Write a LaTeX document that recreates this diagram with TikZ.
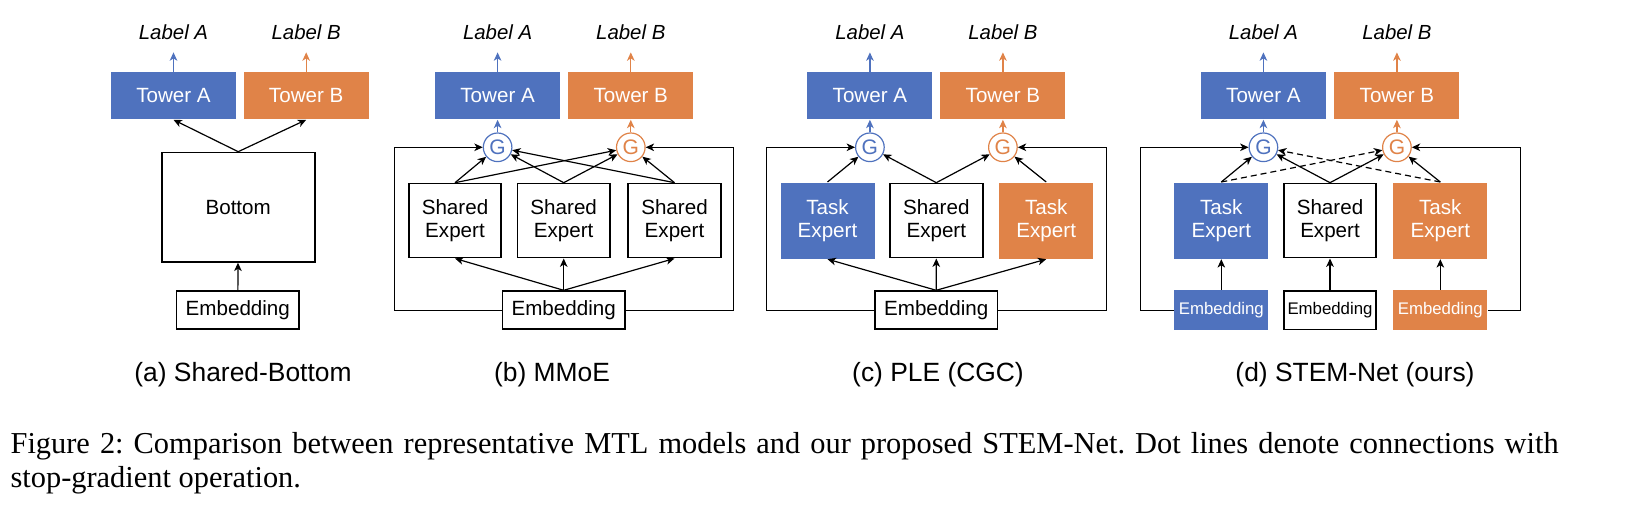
\documentclass[tikz,border=0pt]{standalone}
\usepackage{fontspec}
\setmainfont{Liberation Sans}
\newfontfamily\captionserif{Liberation Serif}
\usepackage{tikz}
\usetikzlibrary{arrows.meta}
\usetikzlibrary{shapes}

\definecolor{cblue}{RGB}{79,114,190}
\definecolor{corange}{RGB}{224,131,72}
\newcommand{\twrfont}{\fontsize{10.3}{11.7}\selectfont}
\newcommand{\embsfont}{\fontsize{8.4}{10}\selectfont}
\newcommand{\lblfont}{\fontsize{10.2}{12}\selectfont\itshape}
\newcommand{\gtfont}{\fontsize{10.5}{12}\selectfont}
\newcommand{\scfont}{\fontsize{13.2}{15}\selectfont}

\begin{document}
\begin{tikzpicture}[x=0.5pt,y=-0.5pt,>={Stealth[length=4.2pt,width=3.8pt,inset=1.2pt]},line width=0.6pt]
	\useasboundingbox (0,0) rectangle (1632,506);
	\def \labelht{32.7}
	\def \towerht{95.7}
	\def \gateht{147.3}
	\def \expertht{220.6}
	\def \embht{310.2}
	\def \subcapht{381.5}
	\tikzstyle{tower-a}=[rectangle,fill=cblue,text=white,inner sep=0pt,minimum width=62.5pt,minimum height=23.5pt,font=\twrfont]
	\tikzstyle{tower-b}=[tower-a,fill=corange]
	\tikzstyle{w-box}=[rectangle,draw=black,line width=0.9pt,inner sep=0pt,align=center,font=\twrfont]
	\tikzstyle{s-expert}=[w-box,minimum width=46.3pt,minimum height=37pt]
	\tikzstyle{t-expert-a}=[rectangle,fill=cblue,text=white,inner sep=0pt,align=center,font=\twrfont,minimum width=47pt,minimum height=38pt]
	\tikzstyle{t-expert-b}=[t-expert-a,fill=corange]
	\tikzstyle{emb}=[w-box,minimum width=61.3pt,minimum height=19pt]
	\tikzstyle{emb-s}=[w-box,minimum width=46.3pt,minimum height=19.3pt,font=\embsfont]
	\tikzstyle{emb-a}=[rectangle,fill=cblue,text=white,inner sep=0pt,font=\embsfont,minimum width=47pt,minimum height=20pt]
	\tikzstyle{emb-b}=[emb-a,fill=corange]
	\tikzstyle{g-a}=[circle,draw=cblue,fill=white,text=cblue,line width=0.6pt,inner sep=0pt,minimum size=14.3pt,font=\gtfont]
	\tikzstyle{g-b}=[g-a,draw=corange,text=corange]
	\tikzstyle{lab}=[inner sep=0pt,font=\lblfont]
	\tikzstyle{sub-cap}=[inner sep=0pt,anchor=base,font=\scfont]
	\tikzstyle{up-a}=[->,draw=cblue,shorten >=5.8pt]
	\tikzstyle{up-b}=[->,draw=corange,shorten >=5.8pt]
	\tikzstyle{fb}=[->,line width=0.5pt]
	\tikzstyle{sg}=[->,dash pattern=on 3pt off 2pt]

	% (a) shared-bottom
	\node[tower-a] 	(a-ta)	at (173.5,\towerht)	{Tower A};
	\node[tower-b] 	(a-tb)	at (306.2,\towerht)	{Tower B};
	\node[lab] 	(a-la)	at (173.5,\labelht)	{Label A};
	\node[lab] 	(a-lb)	at (306.2,\labelht)	{Label B};
	\node[w-box,minimum width=76.6pt,minimum height=54.6pt] 	(a-bot)	at (238.2,207.2)	{Bottom};
	\node[emb] 	(a-emb)	at (237.8,\embht)	{Embedding};
	\draw[up-a] (a-ta) -- (a-la);
	\draw[up-b] (a-tb) -- (a-lb);
	\path[->]
		(a-bot.north)	edge	(a-ta.south)
		(a-bot.north)	edge	(a-tb.south)
		(a-emb)	edge	(a-bot);

	% (b) MMoE
	\node[tower-a] 	(b-ta)	at (497.6,\towerht)	{Tower A};
	\node[tower-b] 	(b-tb)	at (630.8,\towerht)	{Tower B};
	\node[lab] 	(b-la)	at (497.6,\labelht)	{Label A};
	\node[lab] 	(b-lb)	at (630.8,\labelht)	{Label B};
	\node[g-a] 	(b-ga)	at (497.6,\gateht)	{G};
	\node[g-b] 	(b-gb)	at (630.8,\gateht)	{G};
	\node[s-expert] 	(b-e1)	at (455,\expertht)	{Shared\\Expert};
	\node[s-expert] 	(b-e2)	at (563.7,\expertht)	{Shared\\Expert};
	\node[s-expert] 	(b-e3)	at (674.5,\expertht)	{Shared\\Expert};
	\node[emb] 	(b-emb)	at (563.7,\embht)	{Embedding};
	\coordinate (b-lc) at (394,\gateht);
	\coordinate (b-rc) at (733,\gateht);
	\draw[up-a] (b-ta) -- (b-la);
	\draw[up-b] (b-tb) -- (b-lb);
	\draw[->,cblue] (b-ga) -- (b-ta);
	\draw[->,corange] (b-gb) -- (b-tb);
	\path[->]
		(b-e1.north)	edge	(b-ga)
		(b-e1.north)	edge	(b-gb)
		(b-e2.north)	edge	(b-ga)
		(b-e2.north)	edge	(b-gb)
		(b-e3.north)	edge	(b-ga)
		(b-e3.north)	edge	(b-gb)
		%
		(b-emb.north)	edge	(b-e1.south)
		(b-emb.north)	edge	(b-e2.south)
		(b-emb.north)	edge	(b-e3.south);
	\draw[fb] (b-emb.west) -| (b-lc) -- (b-ga);
	\draw[fb] (b-emb.east) -| (b-rc) -- (b-gb);

	% (c) PLE
	\node[tower-a] 	(c-ta)	at (869.9,\towerht)	{Tower A};
	\node[tower-b] 	(c-tb)	at (1002.9,\towerht)	{Tower B};
	\node[lab] 	(c-la)	at (869.9,\labelht)	{Label A};
	\node[lab] 	(c-lb)	at (1002.9,\labelht)	{Label B};
	\node[g-a] 	(c-ga)	at (869.9,\gateht)	{G};
	\node[g-b] 	(c-gb)	at (1002.9,\gateht)	{G};
	\node[t-expert-a] 	(c-e1)	at (827.5,\expertht)	{Task\\Expert};
	\node[s-expert] 	(c-e2)	at (936.3,\expertht)	{Shared\\Expert};
	\node[t-expert-b] 	(c-e3)	at (1046.2,\expertht)	{Task\\Expert};
	\node[emb] 	(c-emb)	at (936.2,\embht)	{Embedding};
	\coordinate (c-lc) at (766,\gateht);
	\coordinate (c-rc) at (1106,\gateht);
	\draw[up-a] (c-ta) -- (c-la);
	\draw[up-b] (c-tb) -- (c-lb);
	\draw[->,cblue] (c-ga) -- (c-ta);
	\draw[->,corange] (c-gb) -- (c-tb);
	\path[->]
		(c-e1.north)	edge	(c-ga)
		(c-e2.north)	edge	(c-ga)
		(c-e2.north)	edge	(c-gb)
		(c-e3.north)	edge	(c-gb)
		%
		(c-emb.north)	edge	(c-e1.south)
		(c-emb.north)	edge	(c-e2.south)
		(c-emb.north)	edge	(c-e3.south);
	\draw[fb] (c-emb.west) -| (c-lc) -- (c-ga);
	\draw[fb] (c-emb.east) -| (c-rc) -- (c-gb);

	% (d) STEM-Net
	\node[tower-a] 	(d-ta)	at (1263.4,\towerht)	{Tower A};
	\node[tower-b] 	(d-tb)	at (1396.9,\towerht)	{Tower B};
	\node[lab] 	(d-la)	at (1263.4,\labelht)	{Label A};
	\node[lab] 	(d-lb)	at (1396.9,\labelht)	{Label B};
	\node[g-a] 	(d-ga)	at (1263.4,\gateht)	{G};
	\node[g-b] 	(d-gb)	at (1396.9,\gateht)	{G};
	\node[t-expert-a] 	(d-e1)	at (1221.3,\expertht)	{Task\\Expert};
	\node[s-expert] 	(d-e2)	at (1330,\expertht)	{Shared\\Expert};
	\node[t-expert-b] 	(d-e3)	at (1440.3,\expertht)	{Task\\Expert};
	\node[emb-a] 	(d-emb1)	at (1221.3,\embht)	{Embedding};
	\node[emb-s] 	(d-emb2)	at (1330,\embht)	{Embedding};
	\node[emb-b] 	(d-emb3)	at (1440.3,\embht)	{Embedding};
	\coordinate (d-lc) at (1140.7,\gateht);
	\coordinate (d-rc) at (1520,\gateht);
	\draw[up-a] (d-ta) -- (d-la);
	\draw[up-b] (d-tb) -- (d-lb);
	\draw[->,cblue] (d-ga) -- (d-ta);
	\draw[->,corange] (d-gb) -- (d-tb);
	\path[->]
		(d-e1.north)	edge	(d-ga)
		(d-e1.north)	edge[sg]	(d-gb)
		(d-e2.north)	edge	(d-ga)
		(d-e2.north)	edge	(d-gb)
		(d-e3.north)	edge[sg]	(d-ga)
		(d-e3.north)	edge	(d-gb)
		%
		(d-emb1)	edge	(d-e1)
		(d-emb2)	edge	(d-e2)
		(d-emb3)	edge	(d-e3);
	\draw[fb] (d-emb1.west) -| (d-lc) -- (d-ga);
	\draw[fb] (d-emb3.east) -| (d-rc) -- (d-gb);

	% sub-captions
	\node[sub-cap] 	(cap-a)	at (243,\subcapht)	{(a) Shared-Bottom};
	\node[sub-cap] 	(cap-b)	at (552,\subcapht)	{(b) MMoE};
	\node[sub-cap] 	(cap-c)	at (938,\subcapht)	{(c) PLE (CGC)};
	\node[sub-cap] 	(cap-d)	at (1355,\subcapht)	{(d) STEM-Net (ours)};

	% figure caption
	\node[anchor=north west,inner sep=0pt,text width=774pt,align=justify,font=\captionserif\fontsize{15.2}{16.7}\selectfont\frenchspacing] 	(fig-cap)	at (10,432)
		{\noindent Figure 2: Comparison between representative MTL models and our proposed STEM-Net. Dot lines denote connections with\linebreak stop-gradient operation.};
\end{tikzpicture}
\end{document}
